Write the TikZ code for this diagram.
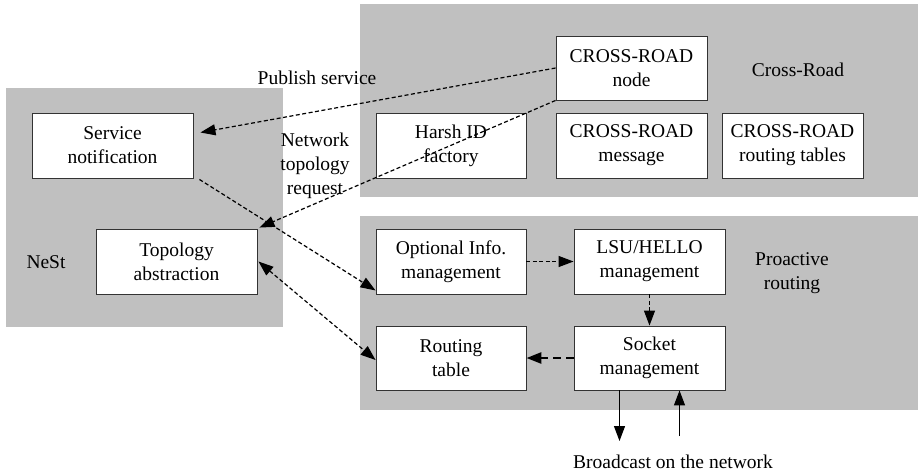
\documentclass[tikz,border=0pt]{standalone}
\usepackage{fontspec}
\setmainfont{Liberation Serif}
\usetikzlibrary{arrows.meta}
\definecolor{panelgray}{RGB}{192,192,192}
\tikzset{
  panel/.style={fill=panelgray, draw=none},
  box/.style={draw=black!80, line width=0.9pt, fill=white, minimum width=151pt, minimum height=65pt,
    align=center, inner sep=0pt, font=\fontsize{19.5}{24}\selectfont},
  lbl/.style={align=center, inner sep=0pt, font=\fontsize{19.5}{24}\selectfont},
  dasharrow/.style={line width=1.2pt, dash pattern=on 4pt off 2.5pt, -{Triangle[length=15pt,width=11pt]}},
  solidarrow/.style={line width=1.2pt, -{Triangle[length=15pt,width=11pt]}}
}
\begin{document}
\begin{tikzpicture}[x=1pt,y=-1pt]
\useasboundingbox (0,0) rectangle (918,472);
% panels
\fill[panel] (360,4) rectangle (918,197);
\fill[panel] (6,88) rectangle (283,327);
\fill[panel] (360,216) rectangle (918,410);
% boxes
\node[box, minimum width=161pt] (sn) at (112.5,145.5) {Service\\notification};
\node[box, minimum width=161pt] (ta) at (176.5,261.5) {Topology\\abstraction};
\node[box, minimum height=64pt] (crn) at (631.5,68) {CROSS-ROAD\\node};
\node[box, minimum width=150pt] (hid) at (451,145.5) {Harsh ID\\factory};
\node[box] (crm) at (631.5,145.5) {CROSS-ROAD\\message};
\node[box, minimum width=141pt] (crt) at (792.5,145.5) {CROSS-ROAD\\routing tables};
\node[box, minimum width=150pt] (oi) at (451,261.5) {Optional Info.\\management};
\node[box] (lsu) at (649.5,261.5) {LSU/HELLO\\management};
\node[box, minimum width=150pt, minimum height=64pt] (rt) at (451,358) {Routing\\table};
\node[box, minimum height=64pt] (sm) at (649.5,358) {Socket\\management};
% labels
\node[lbl] (lpub) at (317,78) {Publish service};
\node[lbl] (lnet) at (315,166) {Network\\topology\\request};
\node[lbl] (lcr) at (798,70) {Cross-Road};
\node[lbl] (lnest) at (46,262) {NeSt};
\node[lbl] (lpro) at (792,273) {Proactive\\routing};
\node[lbl] (lbc) at (673,462) {Broadcast on the network};
% connectors
\draw[dasharrow] (crn.west) -- ([shift={(7,-13)}]sn.east);
\draw[dasharrow] (crn.south west) -- ([shift={(2,-1)}]ta.north east);
\draw[dasharrow] ([shift={(6,1)}]sn.south east) -- ([yshift=4pt]oi.south west);
\draw[dasharrow, {Triangle[length=15pt,width=11pt]}-{Triangle[length=15pt,width=11pt]}] ([xshift=1pt]ta.east) -- ([yshift=-2pt]rt.west);
\draw[dasharrow] (oi.east) -- (lsu.west);
\draw[dasharrow] (lsu.south) -- (sm.north);
\draw[dasharrow, line width=2.6pt, dash pattern=on 8pt off 5pt] (sm.west) -- (rt.east);
\coordinate (down) at (619.5,441);
\coordinate (up) at (679.5,436);
\draw[solidarrow] ([xshift=-30pt]sm.south) -- (down);
\draw[solidarrow] (up) -- ([xshift=30pt]sm.south);
\end{tikzpicture}
\end{document}
